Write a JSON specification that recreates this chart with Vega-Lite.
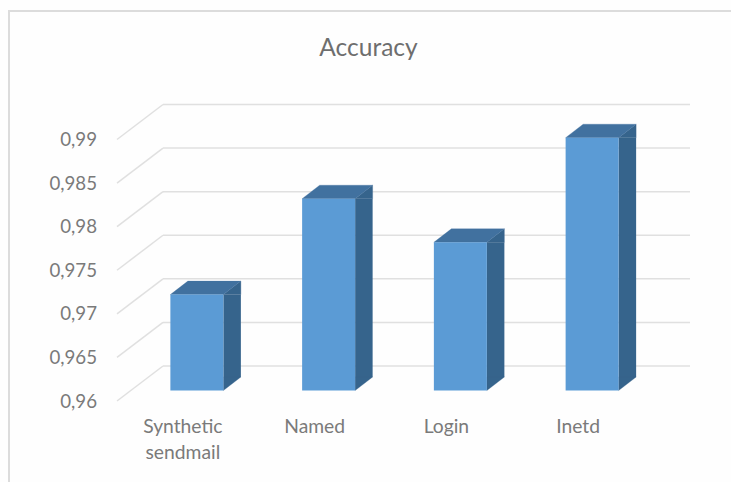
{
"$schema":"https://vega.github.io/schema/vega-lite/v6.json",
"width":527,"height":261.5,
"autosize":"none",
"padding":{"left":117,"top":139.5,"right":87,"bottom":81},
"background":"#fefefe",
"title":{"text":"Accuracy","font":"Lato","fontSize":24.5,"fontWeight":"normal","color":"#6e6e6e","anchor":"middle","dx":-12,"offset":-54},
"config":{"view":{"stroke":null}},
"data":{"values":[
{"name":"Synthetic sendmail","accuracy":0.971},
{"name":"Named","accuracy":0.982},
{"name":"Login","accuracy":0.977},
{"name":"Inetd","accuracy":0.989}]},
"encoding":{
"x":{"field":"name","type":"nominal","sort":null,"title":null,"scale":{"paddingInner":0,"paddingOuter":0},
"axis":{"domain":false,"ticks":false,"grid":false,"labelAngle":0,"labelFont":"Lato","labelFontSize":19.3,"labelColor":"#7a7a7a","labelPadding":16,"labelLineHeight":26,"labelExpr":"split(datum.label,' ')"}},
"y":{"field":"accuracy","type":"quantitative","title":null,"scale":{"domain":[0.96,0.99],"nice":false,"zero":false},
"axis":{"values":[0.96,0.965,0.97,0.975,0.98,0.985,0.99],"domain":false,"ticks":false,"grid":false,"labelFont":"Lato","labelFontSize":18.7,"labelColor":"#7a7a7a","labelPadding":20.5,"labelExpr":"replace(format(datum.value,'.3~f'),'.',',')"}}
},
"layer":[
{"mark":{"type":"point","filled":false,"opacity":1,"size":4,"stroke":"#dcdcdc","strokeWidth":2,"shape":"M-108,343L-108,-128.5L614,-128.5"},
 "data":{"values":[{"frame":1}]},
 "encoding":{"x":{"value":0},"y":{"value":0}}},
{"mark":{"type":"rule","stroke":"#e0e0e0","strokeWidth":1.5,"xOffset":46,"x2Offset":46,"yOffset":-35,"y2Offset":-35},
 "data":{"values":[{"t":0.96},{"t":0.965},{"t":0.97},{"t":0.975},{"t":0.98},{"t":0.985},{"t":0.99}]},
 "encoding":{"x":{"value":0},"x2":{"value":527},"y":{"field":"t","type":"quantitative"}}},
{"mark":{"type":"point","filled":false,"opacity":1,"size":4,"stroke":"#e0e0e0","strokeWidth":1.5,"shape":"M0,0L46,-35"},
 "data":{"values":[{"t":0.96},{"t":0.965},{"t":0.97},{"t":0.975},{"t":0.98},{"t":0.985},{"t":0.99}]},
 "encoding":{"x":{"value":0},"y":{"field":"t","type":"quantitative"}}},
{"mark":{"type":"bar","size":17.5,"xOffset":49.25,"yOffset":-10.5,"y2Offset":-24,"color":"#36648c"},
 "encoding":{"y2":{"datum":0.96}}},
{"mark":{"type":"point","filled":true,"opacity":1,"size":4,"fill":"#36648c","stroke":"#36648c","strokeWidth":0.3,"shape":"M40.5,-10.5L58,-24L58,-10.5Z"}},
{"mark":{"type":"point","filled":true,"opacity":1,"size":4,"fill":"#36648c","stroke":"#36648c","strokeWidth":0.3,"shape":"M40.5,-10.5L58,-24L40.5,-24Z"},
 "encoding":{"y":{"datum":0.96}}},
{"mark":{"type":"point","filled":true,"opacity":1,"size":4,"fill":"#41719f","stroke":"#41719f","strokeWidth":0.3,"shape":"M-12.5,-10.5L40.5,-10.5L58,-24L5,-24Z"}},
{"mark":{"type":"bar","size":53,"xOffset":14,"yOffset":-10.5,"y2Offset":-10.5,"color":"#5b9bd5"},
 "encoding":{"y2":{"datum":0.96}}}
]
}
